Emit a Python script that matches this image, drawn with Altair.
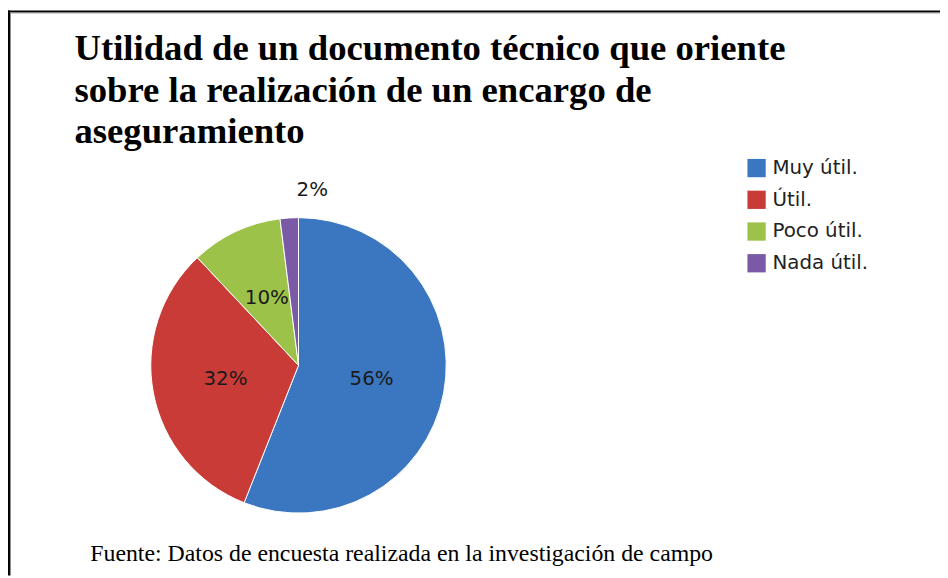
import altair as alt
import pandas as pd

# ---- data ----
categorias = ["Muy útil.", "Útil.", "Poco útil.", "Nada útil."]
valores = [56, 32, 10, 2]
colores = ["#3A77C0", "#C93B37", "#9CC24A", "#7A59A6"]
titulo = [
    "Utilidad de un documento técnico que oriente",
    "sobre la realización de un encargo de",
    "aseguramiento",
]
fuente = "Fuente: Datos de encuesta realizada en la investigación de campo"

df = pd.DataFrame({
    "categoria": categorias,
    "valor": valores,
    "orden": list(range(len(categorias))),
})

W, H = 940, 570
CX, CY, R = 293, 358, 149

base = alt.Chart(df).transform_calculate(
    etiqueta="datum.valor + '%'"
).encode(
    theta=alt.Theta("valor:Q", stack=True),
    order=alt.Order("orden:Q"),
)

pie = base.mark_arc(outerRadius=R, stroke="white", strokeWidth=1).encode(
    x=alt.value(CX),
    y=alt.value(CY),
    color=alt.Color(
        "categoria:N",
        scale=alt.Scale(domain=categorias, range=colores),
        sort=categorias,
        legend=alt.Legend(
            title=None,
            orient="none",
            legendX=745,
            legendY=149,
            symbolType="square",
            symbolSize=340,
            symbolStrokeWidth=0,
            labelFont="DejaVu Sans",
            labelFontSize=20,
            labelColor="#222222",
            labelOffset=6,
            rowPadding=12,
            padding=0,
        ),
    ),
)

etiquetas = base.mark_text(
    radius=75, font="DejaVu Sans", fontSize=20, color="#1a1a1a"
).encode(
    x=alt.value(CX),
    y=alt.value(CY),
    text=alt.condition(alt.datum.valor >= 5, "etiqueta:N", alt.value("")),
)

etiqueta_chica = base.mark_text(
    radius=177, dx=25, font="DejaVu Sans", fontSize=20, color="#1a1a1a"
).encode(
    x=alt.value(CX),
    y=alt.value(CY),
    text=alt.condition(alt.datum.valor < 5, "etiqueta:N", alt.value("")),
)

uno = pd.DataFrame({"k": [0]})

titulo_txt = alt.Chart(uno).mark_text(
    text=titulo, align="left", baseline="alphabetic",
    font="Liberation Serif", fontWeight="bold", fontSize=37,
    lineHeight=42, color="#000000",
).encode(x=alt.value(67), y=alt.value(50))

fuente_txt = alt.Chart(uno).mark_text(
    text=fuente, align="left", baseline="alphabetic",
    font="Liberation Serif", fontSize=24, color="#000000",
).encode(x=alt.value(83), y=alt.value(555))

borde_sup = alt.Chart(uno).mark_rule(color="#000000", strokeWidth=2).encode(
    x=alt.value(0), x2=alt.value(W), y=alt.value(1)
)
borde_sup2 = alt.Chart(uno).mark_rule(color="#8a8a8a", strokeWidth=1).encode(
    x=alt.value(2), x2=alt.value(W), y=alt.value(2.5)
)
borde_izq = alt.Chart(uno).mark_rule(color="#000000", strokeWidth=2).encode(
    x=alt.value(1), y=alt.value(0), y2=alt.value(H)
)
borde_izq2 = alt.Chart(uno).mark_rule(color="#8a8a8a", strokeWidth=1).encode(
    x=alt.value(2.5), y=alt.value(2), y2=alt.value(H)
)

chart = alt.layer(
    pie, etiquetas, etiqueta_chica, titulo_txt, fuente_txt,
    borde_sup, borde_sup2, borde_izq, borde_izq2,
).properties(
    width=W, height=H,
    autosize=alt.AutoSizeParams(type="none"),
    padding=0,
    background="white",
).configure_view(stroke=None)

chart.save("out.html", embed_options={"renderer": "svg", "actions": False})
